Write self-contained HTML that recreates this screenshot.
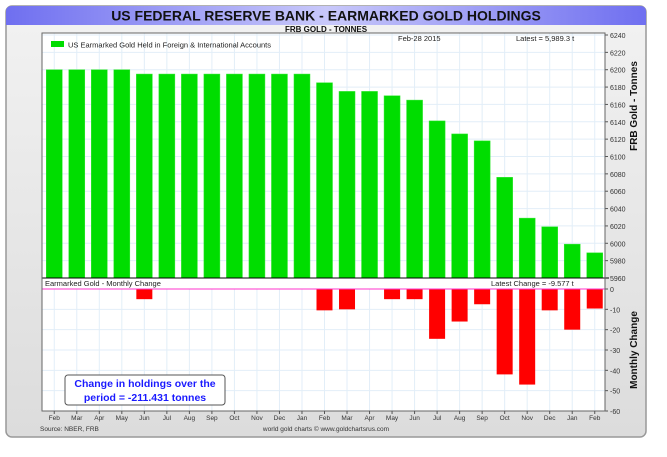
<!DOCTYPE html>
<html><head><meta charset="utf-8"><style>
body{margin:0;background:#fff;width:667px;height:452px;overflow:hidden;font-family:"Liberation Sans",sans-serif}
</style></head><body>
<svg id="c" width="667" height="452" xmlns="http://www.w3.org/2000/svg">
<defs>
<linearGradient id="tg" x1="0" x2="1" y1="0" y2="0"><stop offset="0" stop-color="#6f6ff0"/><stop offset="0.5" stop-color="#c8c8fa"/><stop offset="1" stop-color="#6f6ff0"/></linearGradient>
<linearGradient id="bg" x1="0" x2="0" y1="0" y2="1"><stop offset="0" stop-color="#f2f2f2"/><stop offset="1" stop-color="#dcdcdc"/></linearGradient>
</defs>
<rect x="6" y="6" width="640" height="431" rx="6" fill="url(#bg)" stroke="#999" stroke-width="1.5"/>
<path d="M6 25 V12 Q6 6 12 6 H640 Q646 6 646 12 V25 Z" fill="url(#tg)"/>
<text x="326" y="20.5" text-anchor="middle" font-size="14" font-weight="bold" fill="#111">US FEDERAL RESERVE BANK - EARMARKED GOLD HOLDINGS</text>
<text x="326" y="32" text-anchor="middle" font-size="8" font-weight="bold" fill="#111">FRB GOLD - TONNES</text>
<g id="plot"></g>
</svg>
<script>
const months=["Feb","Mar","Apr","May","Jun","Jul","Aug","Sep","Oct","Nov","Dec","Jan","Feb","Mar","Apr","May","Jun","Jul","Aug","Sep","Oct","Nov","Dec","Jan","Feb"];
const holdings=[6200,6200,6200,6200,6195,6195,6195,6195,6195,6195,6195,6195,6185,6175,6175,6170,6165,6141,6126,6118,6076,6029,6019,5999,5989];
const changes=[0,0,0,0,-5,0,0,0,0,0,0,0,-10.5,-10,0,-5,-5,-24.5,-16,-7.5,-42,-47,-10.5,-20,-9.6];
const topTicks=[5960,5980,6000,6020,6040,6060,6080,6100,6120,6140,6160,6180,6200,6220,6240];
const botTicks=[0,-10,-20,-30,-40,-50,-60];

const NS="http://www.w3.org/2000/svg";
const g=document.getElementById('plot');
function el(t,a,p){const e=document.createElementNS(NS,t);for(const k in a)e.setAttribute(k,a[k]);(p||g).appendChild(e);return e;}
const L=42,R=605,T=33,B1=278,Z=289,B2=411;
const slot=(R-L)/months.length;
const xc=i=>L+slot*(i+0.5)+1;
const yTop=v=>35+(6240-v)*(B1-35)/280;
const yBot=v=>Z+(-v)*(B2-Z)/60;

const bgr=el('rect',{x:L,y:T,width:R-L,height:B2-T,fill:'#fff'});


// grid
months.forEach((m,i)=>{
  const l=el('line',{x1:xc(i),x2:xc(i),y1:T,y2:B2,stroke:'#e2eef8','stroke-width':1});
  
  
});
topTicks.forEach(v=>{
  const y=yTop(v);
  const l=el('line',{x1:L,x2:R,y1:y,y2:y,stroke:'#e2eef8'});
  
  
  const tk=el('line',{x1:R,x2:R+3,y1:y,y2:y,stroke:'#555'});
  
  
  const t=el('text',{x:R+5,y:y+3,'font-size':7,fill:'#333'});t.textContent=v;
  
  
});
botTicks.forEach(v=>{
  const y=yBot(v);
  const l=el('line',{x1:L,x2:R,y1:y,y2:y,stroke:'#e2eef8'});
  
  
  const tk=el('line',{x1:R,x2:R+3,y1:y,y2:y,stroke:'#555'});
  
  
  const t=el('text',{x:R+5,y:y+3,'font-size':7,fill:'#333'});t.textContent=v;
  
  
});
// top bars
holdings.forEach((v,i)=>{
  const y=yTop(v);
  const r=el('rect',{x:xc(i)-8,y:y,width:16,height:B1-y,fill:'#00dd00',stroke:'#33e833','stroke-width':0.5});
  
  
});
// bottom legend strip
const strip=el('rect',{x:L,y:B1,width:R-L,height:Z-B1,fill:'#fff'});


// bottom bars
changes.forEach((v,i)=>{
  if(v===0)return;
  const r=el('rect',{x:xc(i)-8,y:Z,width:16,height:yBot(v)-Z,fill:'#ff0000'});
  
  
});
const zl=el('line',{x1:L,x2:R,y1:Z,y2:Z,stroke:'#ff33cc','stroke-width':1});


const sep=el('line',{x1:L,x2:R+4,y1:B1,y2:B1,stroke:'#000','stroke-width':1});


const fr=el('rect',{x:L,y:T,width:R-L,height:B2-T,fill:'none',stroke:'#666','stroke-width':1});


// x labels
months.forEach((m,i)=>{
  const tk=el('line',{x1:xc(i),x2:xc(i),y1:B2,y2:B2+3,stroke:'#555'});
  
  
  const t=el('text',{x:xc(i),y:B2+9,'font-size':6.5,fill:'#333','text-anchor':'middle'});t.textContent=m;
  
  
});
function txt(x,y,s,attrs,name){const t=el('text',Object.assign({x:x,y:y},attrs));t.textContent=s;return t;}
const lg=el('rect',{x:51,y:41,width:13,height:6,fill:'#00dd00'});


txt(68,47.5,'US Earmarked Gold Held in Foreign & International Accounts',{'font-size':7.5,fill:'#222'},'legend-entry');
txt(398,41,'Feb-28  2015',{'font-size':7.5,fill:'#222'},'date-label');
txt(516,41,'Latest = 5,989.3 t',{'font-size':7.5,fill:'#222'},'latest-label');
txt(45,286,'Earmarked Gold - Monthly Change',{'font-size':7.5,fill:'#222'},'change-legend');
txt(491,286,'Latest Change = -9.577 t',{'font-size':7.5,fill:'#222'},'latest-change-label');
txt(0,0,'FRB Gold - Tonnes',{'font-size':10,'font-weight':'bold',fill:'#111','text-anchor':'middle',transform:'translate(637,106) rotate(-90)'},'y-axis-title');
txt(0,0,'Monthly Change',{'font-size':10,'font-weight':'bold',fill:'#111','text-anchor':'middle',transform:'translate(637,350) rotate(-90)'},'change-axis-title');
txt(40,431,'Source: NBER, FRB',{'font-size':6.5,fill:'#333'},'source-note');
txt(326,431,'world gold charts © www.goldchartsrus.com',{'font-size':6.5,fill:'#333','text-anchor':'middle'},'credit-note');
const box=el('rect',{x:65,y:375,width:160,height:30,rx:3,fill:'#fff',stroke:'#555','stroke-width':1});


txt(145,387,'Change in holdings over the',{'font-size':10.5,'font-weight':'bold',fill:'#1a1aff','text-anchor':'middle'},'summary-line-1');
txt(145,401,'period = -211.431 tonnes',{'font-size':10.5,'font-weight':'bold',fill:'#1a1aff','text-anchor':'middle'},'summary-line-2');
</script>
</body></html>
